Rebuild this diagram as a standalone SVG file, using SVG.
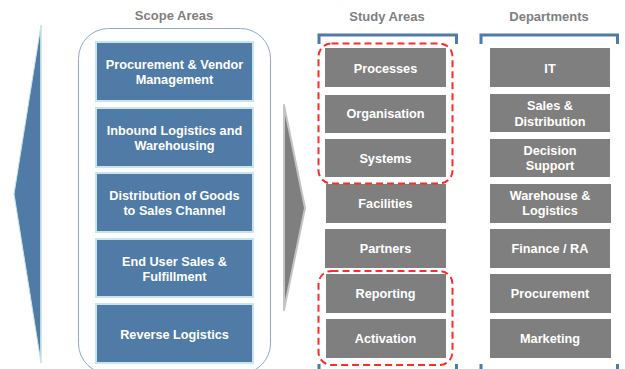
<svg xmlns="http://www.w3.org/2000/svg" width="625" height="369" viewBox="0 0 625 369">
<style>
.hdr{font-family:"Liberation Sans",Arial,sans-serif;font-weight:bold;font-size:13px;fill:#7f7f7f;text-anchor:middle}
.lbl{font-family:"Liberation Sans",Arial,sans-serif;font-weight:bold;font-size:12.7px;fill:#ffffff;text-anchor:middle}
.scope{fill:#4f7ba6;stroke:#c8e6ea;stroke-width:2}
.gbox{fill:#7f7f7f}
.brk{fill:none;stroke:#4f7ba6;stroke-width:3}
.dash{fill:none;stroke:#ff2a2a;stroke-width:2;stroke-dasharray:7 4}
</style>
<rect width="625" height="369" fill="#ffffff"/>
<g id="left-arrow">
<polygon points="41,25 14,194 41,363" fill="#4f7ba6" stroke="#c8e6ea" stroke-width="1"/>
<line x1="41" y1="25" x2="41" y2="363" stroke="#c8e6ea" stroke-width="1.5"/>
</g>
<text class="hdr" x="174" y="20">Scope Areas</text>
<text class="hdr" x="387" y="21">Study Areas</text>
<text class="hdr" x="549" y="21">Departments</text>
<rect id="scope-frame" x="78.5" y="28.5" width="192" height="345" rx="30" fill="none" stroke="#8fa9d2" stroke-width="1"/>
<g id="scope1"><rect class="scope" x="96" y="42" width="157" height="59"/><text class="lbl" x="174.5" y="69">Procurement &amp; Vendor</text><text class="lbl" x="174.5" y="84">Management</text></g>
<g id="scope2"><rect class="scope" x="96" y="108" width="157" height="59"/><text class="lbl" x="174.5" y="135">Inbound Logistics and</text><text class="lbl" x="174.5" y="150">Warehousing</text></g>
<g id="scope3"><rect class="scope" x="96" y="173" width="157" height="59"/><text class="lbl" x="174.5" y="200">Distribution of Goods</text><text class="lbl" x="174.5" y="215">to Sales Channel</text></g>
<g id="scope4"><rect class="scope" x="96" y="239" width="157" height="58"/><text class="lbl" x="174.5" y="266">End User Sales &amp;</text><text class="lbl" x="174.5" y="281">Fulfillment</text></g>
<g id="scope5"><rect class="scope" x="96" y="304" width="157" height="59"/><text class="lbl" x="174.5" y="339">Reverse Logistics</text></g>
<g id="mid-arrow">
<polygon points="284,105 305,208 284,310" fill="#7f7f7f" stroke="#c4c4c4" stroke-width="2" stroke-linejoin="round"/>
</g>
<g id="brackets">
<path class="brk" d="M319,44 V35 H456.5 V44"/>
<path class="brk" d="M481,44 V35 H617.5 V44"/>
<path class="brk" d="M319,364 V372 M456.5,364 V372 M481,364 V372 M617.5,364 V372"/>
</g>
<g id="study-processes"><rect class="gbox" x="325" y="48" width="121" height="39"/><text class="lbl" x="385.5" y="73">Processes</text></g>
<g id="study-organisation"><rect class="gbox" x="325" y="95" width="121" height="38"/><text class="lbl" x="385.5" y="118">Organisation</text></g>
<g id="study-systems"><rect class="gbox" x="325" y="139" width="121" height="38"/><text class="lbl" x="385.5" y="163">Systems</text></g>
<g id="study-facilities"><rect class="gbox" x="326" y="184" width="120" height="39"/><text class="lbl" x="385.5" y="208">Facilities</text></g>
<g id="study-partners"><rect class="gbox" x="325" y="229" width="121" height="39"/><text class="lbl" x="385.5" y="253">Partners</text></g>
<g id="study-reporting"><rect class="gbox" x="326" y="274" width="120" height="39"/><text class="lbl" x="385.5" y="298">Reporting</text></g>
<g id="study-activation"><rect class="gbox" x="326" y="319" width="120" height="39"/><text class="lbl" x="385.5" y="343">Activation</text></g>
<g id="dept-it"><rect class="gbox" x="490" y="48" width="120" height="39"/><text class="lbl" x="550" y="73">IT</text></g>
<g id="dept-sales"><rect class="gbox" x="490" y="94" width="120" height="38"/><text class="lbl" x="550" y="110">Sales &amp;</text><text class="lbl" x="550" y="126">Distribution</text></g>
<g id="dept-decision"><rect class="gbox" x="490" y="139" width="120" height="38"/><text class="lbl" x="550" y="155">Decision</text><text class="lbl" x="550" y="170">Support</text></g>
<g id="dept-warehouse"><rect class="gbox" x="490" y="184" width="121" height="39"/><text class="lbl" x="550" y="200">Warehouse &amp;</text><text class="lbl" x="550" y="215">Logistics</text></g>
<g id="dept-finance"><rect class="gbox" x="490" y="229" width="120" height="39"/><text class="lbl" x="550" y="253">Finance / RA</text></g>
<g id="dept-procurement"><rect class="gbox" x="490" y="274" width="121" height="39"/><text class="lbl" x="550" y="298">Procurement</text></g>
<g id="dept-marketing"><rect class="gbox" x="490" y="319" width="121" height="39"/><text class="lbl" x="550" y="343">Marketing</text></g>
<g id="highlights">
<rect class="dash" x="318.5" y="43.5" width="134" height="140" rx="13"/>
<rect class="dash" x="318.5" y="271" width="134" height="94" rx="13"/>
</g>
</svg>
